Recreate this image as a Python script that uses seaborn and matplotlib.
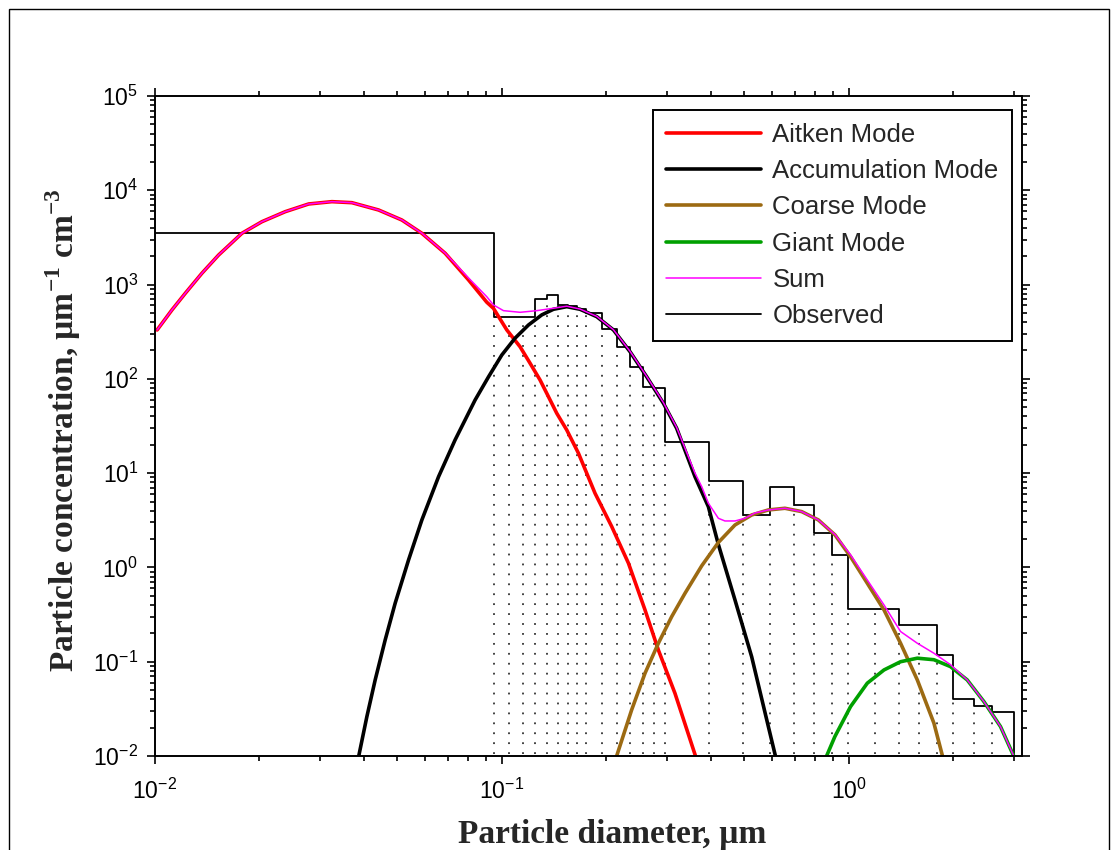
import numpy as np
import pandas as pd
import matplotlib
matplotlib.use("Agg")
import matplotlib.pyplot as plt
import seaborn as sns
from matplotlib.patches import Rectangle

# ---------------- data ----------------
# Observed size distribution: bin edges (um) and concentrations (um^-1 cm^-3)
obs_edges = [0.01, 0.095, 0.105, 0.115, 0.125, 0.135, 0.145, 0.155, 0.165, 0.175,
             0.195, 0.215, 0.235, 0.255, 0.275, 0.295, 0.395, 0.495, 0.595, 0.695,
             0.795, 0.895, 0.995, 1.195, 1.395, 1.595, 1.795, 1.995, 2.295, 2.595, 2.995]
obs_values = [3550, 457, 457, 457, 698, 776, 605, 595, 546, 496,
              336, 219, 133, 81.5, 80, 21.6, 8.3, 3.6, 7.08, 4.6,
              2.31, 1.36, 0.36, 0.36, 0.245, 0.245, 0.118, 0.040, 0.034, 0.0296]

aitken_d = [0.01014, 0.01119, 0.01223, 0.01366, 0.01526, 0.01781, 0.02034, 0.02374,
            0.02773, 0.03236, 0.03696, 0.04413, 0.05149, 0.05882, 0.06865, 0.0802,
            0.0905, 0.0946, 0.1034, 0.1129, 0.1207, 0.1289, 0.1363, 0.1440, 0.1539,
            0.1663, 0.1857, 0.2075, 0.2318, 0.2588, 0.2828, 0.3157, 0.3625]
aitken_c = [330, 538, 809, 1321, 2061, 3499, 4645, 5930,
            7157, 7574, 7390, 6180, 4840, 3499, 2148, 1119,
            650, 560, 330, 219, 146, 97.3, 64.7, 43.2, 28.7,
            16.3, 6.12, 2.71, 1.11, 0.354, 0.133, 0.0463, 0.0098]

accum_d = [0.03864, 0.04083, 0.04314, 0.04610, 0.04926, 0.05384, 0.05882, 0.06572,
           0.07333, 0.08376, 0.09155, 0.1, 0.1092, 0.1194, 0.1304, 0.1409, 0.1539,
           0.1681, 0.1878, 0.2099, 0.2343, 0.2618, 0.2924, 0.3193, 0.3606, 0.3941,
           0.4212, 0.4703, 0.5254, 0.5870, 0.6160]
accum_c = [0.0098, 0.0262, 0.0641, 0.170, 0.417, 1.20, 3.19, 9.18,
           22.5, 59.7, 105, 179, 270, 373, 477, 547, 583,
           547, 457, 330, 194, 105, 55.1, 29.9, 9.18, 4.41,
           1.75, 0.452, 0.113, 0.0205, 0.0098]

coarse_d = [0.2140, 0.2368, 0.2588, 0.2828, 0.3090, 0.3375, 0.3771, 0.4212, 0.4703,
            0.5254, 0.5870, 0.6551, 0.7322, 0.8180, 0.9138, 1.013, 1.132, 1.265,
            1.412, 1.578, 1.762, 1.868]
coarse_c = [0.0098, 0.0308, 0.0755, 0.157, 0.301, 0.532, 1.04, 1.84, 2.82,
            3.60, 4.07, 4.24, 3.91, 3.19, 2.21, 1.30, 0.680, 0.354,
            0.157, 0.0641, 0.0223, 0.0098]

giant_d = [0.8620, 0.9131, 1.013, 1.132, 1.265, 1.412, 1.578, 1.762, 1.967,
           2.198, 2.455, 2.742, 3.0]
giant_c = [0.0098, 0.0161, 0.0334, 0.0592, 0.0818, 0.100, 0.109, 0.105, 0.0887,
           0.0641, 0.0378, 0.0205, 0.0098]

sum_d = [0.01014, 0.01119, 0.01223, 0.01366, 0.01526, 0.01781, 0.02034, 0.02374,
         0.02773, 0.03236, 0.03696, 0.04413, 0.05149, 0.05882, 0.06865, 0.0802,
         0.0905, 0.0946, 0.1011, 0.1129, 0.1262, 0.1409, 0.1539, 0.1681, 0.1878,
         0.2099, 0.2343, 0.2618, 0.2924, 0.3193, 0.3606, 0.3771, 0.3941, 0.4212,
         0.4400, 0.4703, 0.5026, 0.5370, 0.5870, 0.6551, 0.7322, 0.8180, 0.9138,
         1.013, 1.132, 1.265, 1.412, 1.578, 1.762, 1.967, 2.198, 2.455, 2.742, 3.0]
sum_c = [330, 538, 809, 1321, 2061, 3500, 4646, 5931,
         7158, 7575, 7392, 6183, 4845, 3505, 2157, 1174,
         744, 608, 529, 508, 529, 561, 590, 550, 460,
         332, 196, 106, 56, 30.5, 10.0, 7.19, 4.80, 3.32,
         3.11, 3.11, 3.32, 3.78, 4.07, 4.24, 3.91, 3.19, 2.23,
         1.36, 0.736, 0.400, 0.209, 0.157, 0.123, 0.093, 0.0641, 0.0378, 0.0205, 0.0098]

legend_labels = ["Aitken Mode", "Accumulation Mode", "Coarse Mode", "Giant Mode", "Sum", "Observed"]
xtick_values = [0.01, 0.1, 1.0]
xtick_labels = [r"$\mathregular{10^{-2}}$", r"$\mathregular{10^{-1}}$", r"$\mathregular{10^{0}}$"]
ytick_values = [1e-2, 1e-1, 1e0, 1e1, 1e2, 1e3, 1e4, 1e5]
ytick_labels = [r"$\mathregular{10^{-2}}$", r"$\mathregular{10^{-1}}$", r"$\mathregular{10^{0}}$",
                r"$\mathregular{10^{1}}$", r"$\mathregular{10^{2}}$", r"$\mathregular{10^{3}}$",
                r"$\mathregular{10^{4}}$", r"$\mathregular{10^{5}}$"]

# ---------------- style ----------------
sns.set_style("ticks")
plt.rcParams["font.family"] = ["Liberation Sans", "DejaVu Sans"]
plt.rcParams["mathtext.fontset"] = "custom"
plt.rcParams["mathtext.rm"] = "Liberation Serif"
plt.rcParams["mathtext.bf"] = "Liberation Serif:bold"
plt.rcParams["axes.linewidth"] = 1.4

fig = plt.figure(figsize=(11.15, 8.5), dpi=100)
fig.patch.set_facecolor("white")
ax = fig.add_axes([155 / 1115, 1 - 756 / 850, 867 / 1115, 660 / 850])
ax.set_facecolor("white")
ax.set_xscale("log")
ax.set_yscale("log")
ax.set_xlim(0.01, 10 ** 0.5)
ax.set_ylim(1e-2, 1e5)

# observed histogram (step) + dotted drop lines at bin edges
step_x = list(obs_edges) + [obs_edges[-1]]
step_y = list(obs_values) + [obs_values[-1], 1e-4]
obs_df = pd.DataFrame({"d": step_x, "c": step_y})
sns.lineplot(data=obs_df, x="d", y="c", ax=ax, color="black", lw=1.3,
             drawstyle="steps-post", sort=False, estimator=None, label=legend_labels[5])

inner_edges = obs_edges[1:-1]
drop_tops = [min(obs_values[i], obs_values[i + 1]) for i in range(len(obs_values) - 1)]
ax.vlines(inner_edges, 1.05e-2, drop_tops, colors="#333333", linewidth=1.3,
          linestyles=(0, (1.0, 4.5)), zorder=1)

curves = [
    (aitken_d, aitken_c, "#FF0000", 2.6, legend_labels[0]),
    (accum_d, accum_c, "#000000", 2.6, legend_labels[1]),
    (coarse_d, coarse_c, "#9C6A12", 2.6, legend_labels[2]),
    (giant_d, giant_c, "#00A000", 2.6, legend_labels[3]),
    (sum_d, sum_c, "#FF00FF", 1.1, legend_labels[4]),
]
for d, c, col, lw, lab in curves:
    df = pd.DataFrame({"d": d, "c": c})
    sns.lineplot(data=df, x="d", y="c", ax=ax, color=col, lw=lw, sort=False,
                 estimator=None, label=lab)

# ticks
ax.set_xticks(xtick_values)
ax.set_xticklabels(xtick_labels, fontsize=16.5)
ax.set_yticks(ytick_values)
ax.set_yticklabels(ytick_labels, fontsize=16.5)
ax.xaxis.set_minor_locator(matplotlib.ticker.LogLocator(base=10, subs=np.arange(2, 10), numticks=20))
ax.yaxis.set_minor_locator(matplotlib.ticker.LogLocator(base=10, subs=np.arange(2, 10), numticks=20))
ax.xaxis.set_minor_formatter(matplotlib.ticker.NullFormatter())
ax.yaxis.set_minor_formatter(matplotlib.ticker.NullFormatter())
ax.tick_params(which="both", direction="out", top=True, right=True, width=1.2, colors="black")
ax.tick_params(which="major", length=6, pad=6)
ax.tick_params(axis="x", which="major", pad=10)
ax.tick_params(which="minor", length=3.5)
for s in ax.spines.values():
    s.set_visible(True)
    s.set_color("black")

# labels
ax.set_xlabel("Particle diameter, µm", family="Liberation Serif", weight="bold", fontsize=24)
ax.set_ylabel(r"Particle concentration, µm$^{\mathbf{-1}}$ cm$^{\mathbf{-3}}$",
              family="Liberation Serif", weight="bold", fontsize=24)
ax.xaxis.set_label_coords(0.527, -0.095)
ax.yaxis.set_label_coords(-0.083, 0.494)

# legend in the reference order
handles, labels = ax.get_legend_handles_labels()
hmap = dict(zip(labels, handles))
leg = ax.legend([hmap[l] for l in legend_labels], legend_labels, loc="upper right",
                bbox_to_anchor=(0.988, 0.979), borderaxespad=0, fontsize=18.5,
                handlelength=3.7, handletextpad=0.45, labelspacing=0.48, borderpad=0.5,
                frameon=True, fancybox=False, framealpha=1, edgecolor="black")
leg.get_frame().set_linewidth(1.4)

# outer frame of the picture
fig.patches.append(Rectangle((9 / 1115, -0.02), 1100 / 1115, 1.0 - 9 / 850 + 0.02,
                             transform=fig.transFigure, fill=False, edgecolor="black",
                             linewidth=1.0))

fig.savefig("out.png", dpi=100, facecolor="white")
